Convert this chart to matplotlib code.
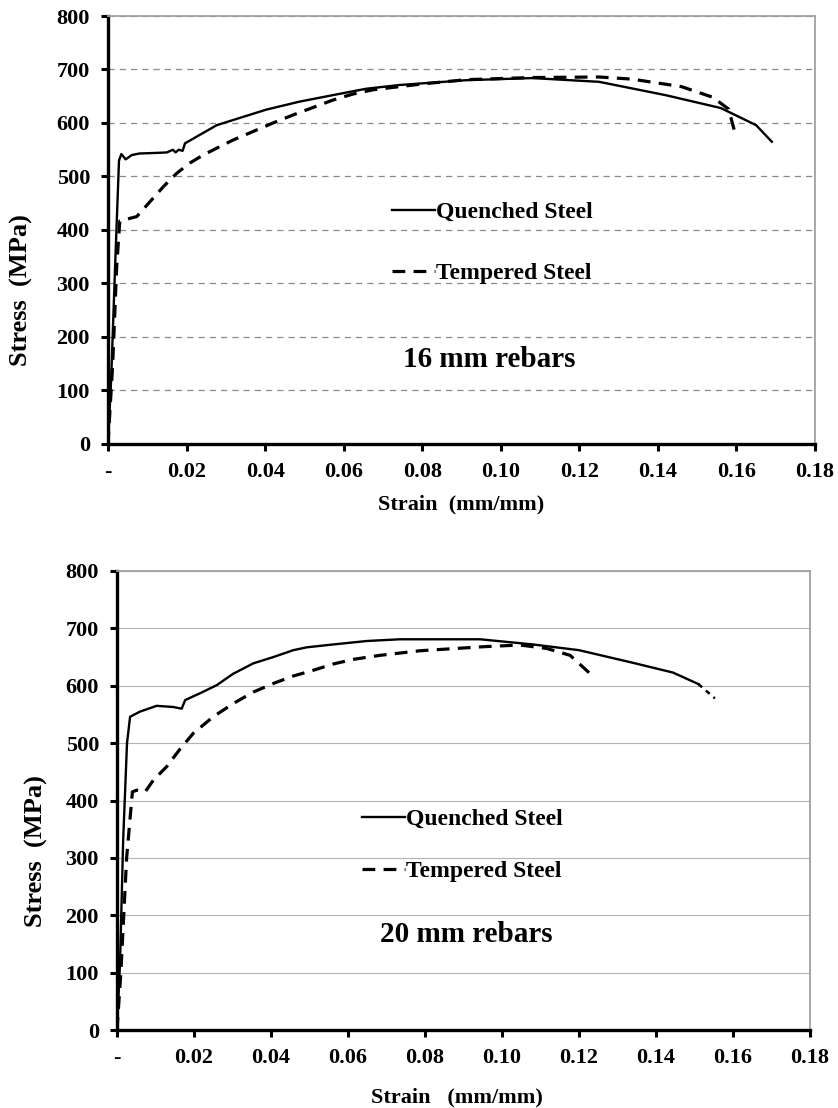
import matplotlib
matplotlib.use("Agg")
import matplotlib.pyplot as plt
from matplotlib.ticker import FuncFormatter, MultipleLocator

plt.rcParams['font.family'] = ['Liberation Serif', 'DejaVu Serif']
plt.rcParams['font.weight'] = 'bold'

# 16 mm rebars (top panel)
q16_strain = [0, 0.0008, 0.0018, 0.0028, 0.0034, 0.0045, 0.006, 0.008, 0.012, 0.015, 0.0165,
              0.0172, 0.018, 0.019, 0.0196, 0.0277, 0.0403, 0.0488, 0.0572, 0.0657, 0.0742,
              0.0912, 0.108, 0.125, 0.142, 0.156, 0.165, 0.169]
q16_stress = [0, 120, 330, 530, 542, 532, 540, 543, 544, 545, 550,
              545, 550, 548, 562, 596, 625, 640, 652, 664, 671,
              680, 684, 677, 652, 628, 596, 565]
t16_strain = [0, 0.0012, 0.0022, 0.003, 0.0073, 0.0107, 0.0141, 0.0175, 0.0208, 0.0242,
              0.0285, 0.0318, 0.0369, 0.042, 0.0471, 0.0522, 0.0573, 0.0623, 0.0674, 0.08,
              0.0912, 0.108, 0.125, 0.1334, 0.146, 0.154, 0.158, 0.1595]
t16_stress = [0, 150, 330, 417, 425, 453, 481, 506, 525, 540,
              556, 568, 584, 600, 615, 629, 643, 654, 662, 673,
              681, 685, 686, 682, 668, 648, 626, 585]

# 20 mm rebars (bottom panel)
q20_strain = [0, 0.0008, 0.0016, 0.0026, 0.0034, 0.006, 0.0103, 0.0146, 0.0168, 0.0177,
              0.0216, 0.0259, 0.0302, 0.0354, 0.0406, 0.0458, 0.0493, 0.0562, 0.0649, 0.0735,
              0.0943, 0.108, 0.120, 0.134, 0.1444, 0.151]
q20_stress = [0, 120, 331, 500, 546, 555, 565, 563, 560, 575,
              587, 601, 621, 639, 650, 662, 667, 672, 678, 681,
              681, 672, 662, 640, 623, 603]
q20_tail_strain = [0.151, 0.1553]
q20_tail_stress = [603, 578]
t20_strain = [0, 0.001, 0.0025, 0.004, 0.0051, 0.0073, 0.0095, 0.0129, 0.0164, 0.0198,
              0.025, 0.0302, 0.0354, 0.0406, 0.0458, 0.051, 0.0562, 0.0614, 0.0683, 0.0787,
              0.0951, 0.1047, 0.1116, 0.1177, 0.1229]
t20_stress = [0, 100, 300, 415, 418, 415, 436, 459, 490, 517,
              546, 569, 589, 604, 617, 627, 638, 646, 653, 661,
              668, 671, 665, 653, 621]

labels = ['Quenched Steel', 'Tempered Steel']
titles = ['16 mm rebars', '20 mm rebars']

fig = plt.figure(figsize=(8.38, 11.08), dpi=100)
ax1 = fig.add_axes([108/838, 1-444/1108, 707/838, 428/1108])
ax2 = fig.add_axes([117/838, 1-1030/1108, 693/838, 459/1108])

def xfmt(v, pos):
    if abs(v) < 1e-9:
        return '-'
    return '%.2f' % v

def style(ax, dashed_grid):
    ax.set_xlim(0, 0.18)
    ax.set_ylim(0, 800)
    ax.xaxis.set_major_locator(MultipleLocator(0.02))
    ax.yaxis.set_major_locator(MultipleLocator(100))
    ax.xaxis.set_major_formatter(FuncFormatter(xfmt))
    for s in ['left', 'bottom']:
        ax.spines[s].set_linewidth(2.4)
        ax.spines[s].set_color('black')
    for s in ['top', 'right']:
        ax.spines[s].set_linewidth(1.3)
        ax.spines[s].set_color('#a0a0a0')
    ax.tick_params(direction='out', length=5, width=2.2, labelsize=16, pad=8,
                   top=False, right=False)
    if dashed_grid:
        ax.grid(axis='y', color='#8a8a8a', lw=0.9, ls=(0, (5, 4)))
    else:
        ax.grid(axis='y', color='#b4b4b4', lw=0.8, ls='-')
    ax.set_axisbelow(True)

style(ax1, True)
ax1.plot(q16_strain, q16_stress, color='black', lw=1.7, label=labels[0])
ax1.plot(t16_strain, t16_stress, color='black', lw=2.3, ls=(0, (4, 2.6)), label=labels[1])
ax1.set_xlabel('Strain  (mm/mm)', fontsize=16, fontweight='bold')
ax1.set_ylabel('Stress  (MPa)', fontsize=19, fontweight='bold')
ax1.xaxis.set_label_coords(0.5, -0.117)
ax1.yaxis.set_label_coords(-0.106, 0.36)
ax1.legend(loc='center left', bbox_to_anchor=(0.402, 0.470), frameon=False,
           fontsize=17, handlelength=1.8, handletextpad=0.05, labelspacing=1.68,
           borderpad=0, borderaxespad=0)
ax1.text(0.417, 0.180, titles[0], transform=ax1.transAxes, fontsize=21,
         fontweight='bold', ha='left', va='baseline')

style(ax2, False)
ax2.plot(q20_strain, q20_stress, color='black', lw=1.7, label=labels[0])
ax2.plot(q20_tail_strain, q20_tail_stress, color='black', lw=1.8, ls=(0, (2, 2)))
ax2.plot(t20_strain, t20_stress, color='black', lw=2.3, ls=(0, (4, 2.6)), label=labels[1])
ax2.set_xlabel('Strain   (mm/mm)', fontsize=16, fontweight='bold')
ax2.set_ylabel('Stress  (MPa)', fontsize=19, fontweight='bold')
ax2.xaxis.set_label_coords(0.49, -0.126)
ax2.yaxis.set_label_coords(-0.10, 0.39)
ax2.legend(loc='center left', bbox_to_anchor=(0.354, 0.402), frameon=False,
           fontsize=17, handlelength=1.8, handletextpad=0.05, labelspacing=1.3,
           borderpad=0, borderaxespad=0)
ax2.text(0.380, 0.192, titles[1], transform=ax2.transAxes, fontsize=21,
         fontweight='bold', ha='left', va='baseline')

fig.savefig('out.png', dpi=100)
